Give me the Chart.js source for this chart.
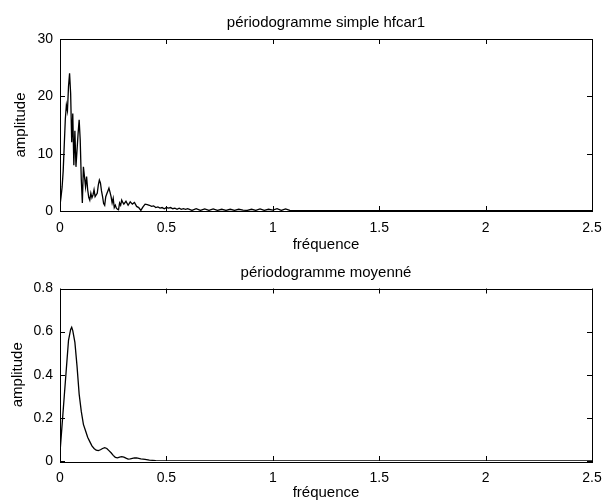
<!DOCTYPE html>
<html lang="fr">
<head>
<meta charset="utf-8">
<title>périodogrammes hfcar1</title>
<script src="https://cdn.jsdelivr.net/npm/chart.js@4.4.1/dist/chart.umd.min.js"></script>
<style>
    html, body { margin: 0; padding: 0; background: #fff; }
    #page { position: relative; width: 605px; height: 502px; overflow: hidden; }
    #chartTop { position: absolute; left: 0; top: 0; }
    #chartBottom { position: absolute; left: 0; top: 256px; }
</style>
</head>
<body>
<div id="page">
    <canvas id="chartTop" width="605" height="256"></canvas>
    <canvas id="chartBottom" width="605" height="246"></canvas>
</div>
<script>
// --- Données ---
// Périodogramme simple : fréquences (pas fin au début où le signal varie beaucoup)
const freqSimple = [
    0, 0.005, 0.01, 0.015, 0.02, 0.025, 0.03, 0.035, 0.04, 0.045,
    0.05, 0.055, 0.06, 0.065, 0.07, 0.075, 0.08, 0.085, 0.09, 0.095,
    0.1, 0.105, 0.11, 0.115, 0.12, 0.125, 0.13, 0.135, 0.14, 0.145,
    0.15, 0.155, 0.16, 0.165, 0.17, 0.175, 0.18, 0.185, 0.19, 0.195,
    0.2, 0.205, 0.21, 0.215, 0.22, 0.225, 0.23, 0.235, 0.24, 0.245,
    0.25, 0.255, 0.26, 0.265, 0.27, 0.275, 0.28, 0.285, 0.29, 0.295, 0.3,
    0.31, 0.32, 0.33, 0.34, 0.35, 0.36, 0.37, 0.38, 0.39, 0.4,
    0.41, 0.42, 0.43, 0.44, 0.45, 0.46, 0.47, 0.48, 0.49, 0.5,
    0.51, 0.52, 0.53, 0.54, 0.55, 0.56, 0.57, 0.58, 0.59, 0.6,
    0.62, 0.64, 0.66, 0.68, 0.7, 0.72, 0.74, 0.76, 0.78, 0.8,
    0.82, 0.84, 0.86, 0.88, 0.9, 0.92, 0.94, 0.96, 0.98, 1.0,
    1.02, 1.04, 1.06, 1.08, 1.1,
    1.2, 1.3, 1.4, 1.5, 1.6, 1.7, 1.8, 1.9, 2.0, 2.1, 2.2, 2.3, 2.4, 2.5
];
const ampSimple = [
    1.0, 2.5, 4.2, 7.0, 11.5, 16.0, 18.5, 17.5, 21.7, 24.0,
    20.5, 12.0, 17.0, 8.0, 14.0, 7.7, 10.6, 13.5, 15.9, 12.4,
    5.5, 1.4, 7.7, 6.0, 4.2, 6.0, 3.7, 2.4, 1.9, 3.1,
    2.3, 2.8, 3.7, 2.5, 2.8, 3.1, 4.5, 5.4, 4.9, 3.5,
    2.5, 1.3, 1.0, 2.5, 3.0, 3.5, 4.0, 3.3, 2.5, 1.4,
    2.2, 0.6, 1.0, 0.5, 0.3, 0.2, 1.4, 1.0, 1.9, 1.5, 1.2,
    1.7, 1.0, 1.6, 1.2, 1.5, 0.8, 0.6, 0.1, 0.7, 1.2,
    1.1, 1.0, 0.8, 0.9, 0.6, 0.7, 0.5, 0.6, 0.4, 0.6,
    0.5, 0.6, 0.4, 0.5, 0.3, 0.5, 0.3, 0.4, 0.3, 0.4,
    0.1, 0.4, 0.1, 0.35, 0.1, 0.35, 0.1, 0.3, 0.1, 0.3,
    0.1, 0.3, 0.15, 0.1, 0.3, 0.1, 0.35, 0.1, 0.3, 0.15,
    0.4, 0.1, 0.35, 0.1, 0.05,
    0.06, 0.04, 0.05, 0.06, 0.04, 0.05, 0.05, 0.04, 0.06, 0.05, 0.04, 0.05, 0.05, 0.04
];

// Périodogramme moyenné
const freqMoyen = [
    0, 0.01, 0.02, 0.03, 0.04, 0.05, 0.055, 0.06, 0.07, 0.08, 0.09,
    0.1, 0.11, 0.12, 0.13, 0.14, 0.15, 0.16, 0.17, 0.18, 0.19,
    0.2, 0.21, 0.22, 0.23, 0.24, 0.25, 0.26, 0.27, 0.28, 0.29,
    0.3, 0.31, 0.32, 0.33, 0.34, 0.35, 0.36, 0.37, 0.38, 0.39, 0.4,
    0.42, 0.45, 0.5, 0.6, 0.7, 0.8, 0.9, 1.0, 1.1, 1.2, 1.3, 1.4,
    1.5, 1.6, 1.7, 1.8, 1.9, 2.0, 2.1, 2.2, 2.3, 2.4, 2.5
];
const ampMoyen = [
    0.04, 0.17, 0.30, 0.43, 0.56, 0.61, 0.62, 0.605, 0.55, 0.44, 0.31,
    0.23, 0.17, 0.14, 0.11, 0.09, 0.07, 0.058, 0.05, 0.048, 0.052,
    0.058, 0.062, 0.058, 0.048, 0.038, 0.026, 0.017, 0.015, 0.018, 0.02,
    0.018, 0.013, 0.009, 0.01, 0.012, 0.014, 0.014, 0.012, 0.01, 0.009, 0.008,
    0.004, 0.002, 0.001, 0.001, 0, 0.001, 0, 0, 0.001, 0, 0, 0,
    0, 0, 0, 0, 0, 0, 0, 0, 0, 0, 0
];

// Graduations
const xTicks = [0, 0.5, 1, 1.5, 2, 2.5];
const yTicksSimple = [0, 10, 20, 30];
const yTicksMoyen = [0, 0.2, 0.4, 0.6, 0.8];

const FONT = '"Liberation Sans", Arial, Helvetica, sans-serif';

// Cadre complet + petites graduations vers l'intérieur (style MATLAB)
const matlabBox = {
    id: 'matlabBox',
    afterDatasetsDraw(chart) {
        const { ctx, chartArea: a, scales: { x, y } } = chart;
        const len = 5;
        ctx.save();
        ctx.strokeStyle = '#000';
        ctx.lineWidth = 1;
        ctx.beginPath();
        x.ticks.forEach(t => {
            const px = Math.round(x.getPixelForValue(t.value)) + 0.5;
            ctx.moveTo(px, a.bottom); ctx.lineTo(px, a.bottom - len);
            ctx.moveTo(px, a.top); ctx.lineTo(px, a.top + len);
        });
        y.ticks.forEach(t => {
            const py = Math.round(y.getPixelForValue(t.value)) + 0.5;
            ctx.moveTo(a.left, py); ctx.lineTo(a.left + len, py);
            ctx.moveTo(a.right, py); ctx.lineTo(a.right - len, py);
        });
        ctx.stroke();
        ctx.strokeRect(Math.round(a.left) + 0.5, Math.round(a.top) + 0.5,
            Math.round(a.right - a.left), Math.round(a.bottom - a.top));
        ctx.restore();
    }
};

function pairs(xs, ys) {
    return xs.map((v, i) => ({ x: v, y: ys[i] }));
}

function makeChart(canvasId, cfg) {
    return new Chart(document.getElementById(canvasId), {
        type: 'line',
        data: {
            datasets: [{
                data: pairs(cfg.freq, cfg.amp),
                borderColor: '#000',
                borderWidth: 1.3,
                pointRadius: 0,
                tension: 0,
                fill: false
            }]
        },
        options: {
            responsive: false,
            animation: false,
            layout: { padding: { left: 0, right: 13, top: 0, bottom: 0 } },
            plugins: {
                legend: { display: false },
                tooltip: { enabled: false },
                title: {
                    display: true,
                    text: cfg.title,
                    fullSize: false,
                    color: '#000',
                    font: { family: FONT, size: 15, weight: 'normal', lineHeight: 1.2 },
                    padding: cfg.titlePad
                }
            },
            scales: {
                x: {
                    type: 'linear',
                    min: 0,
                    max: 2.5,
                    afterBuildTicks: s => { s.ticks = xTicks.map(v => ({ value: v })); },
                    afterFit: s => {
                        s.height = cfg.xHeight;
                        // la place du dernier libellé est déjà dans le padding
                        s.paddingLeft = 0;
                        s.paddingRight = 0;
                    },
                    grid: { display: false, drawTicks: false },
                    border: { display: false },
                    ticks: {
                        color: '#000',
                        padding: 9,
                        maxRotation: 0,
                        font: { family: FONT, size: 14 },
                        callback: v => String(Math.round(v * 10) / 10)
                    },
                    title: {
                        display: true,
                        text: 'fréquence',
                        color: '#000',
                        font: { family: FONT, size: 15, lineHeight: 1.2 },
                        padding: { top: 0, bottom: cfg.xTitlePad }
                    }
                },
                y: {
                    min: 0,
                    max: cfg.yMax,
                    afterBuildTicks: s => { s.ticks = cfg.yTicks.map(v => ({ value: v })); },
                    afterFit: s => { s.width = 60; },
                    grid: { display: false, drawTicks: false },
                    border: { display: false },
                    ticks: {
                        color: '#000',
                        padding: 7,
                        font: { family: FONT, size: 14 },
                        callback: v => String(Math.round(v * 100) / 100)
                    },
                    title: {
                        display: true,
                        text: 'amplitude',
                        color: '#000',
                        font: { family: FONT, size: 15, lineHeight: 1.2 },
                        padding: { top: cfg.yTitlePad, bottom: 0 }
                    }
                }
            }
        },
        plugins: [matlabBox]
    });
}

makeChart('chartTop', {
    freq: freqSimple,
    amp: ampSimple,
    title: 'périodogramme simple hfcar1',
    titlePad: { top: 13.5, bottom: 7.5 },
    xHeight: 45,
    xTitlePad: 1.7,
    yMax: 30,
    yTicks: yTicksSimple,
    yTitlePad: 12
});

makeChart('chartBottom', {
    freq: freqMoyen,
    amp: ampMoyen,
    title: 'périodogramme moyenné',
    titlePad: { top: 7.5, bottom: 7 },
    xHeight: 41,
    xTitlePad: 0,
    yMax: 0.8,
    yTicks: yTicksMoyen,
    yTitlePad: 8.5
});
</script>
</body>
</html>
